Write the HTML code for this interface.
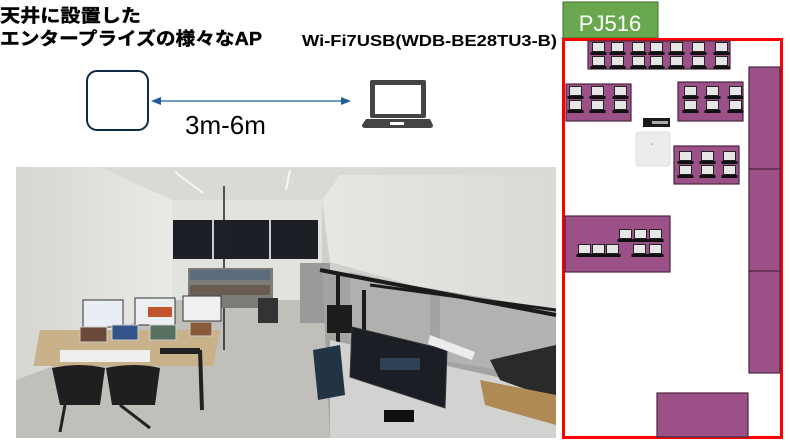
<!DOCTYPE html>
<html><head><meta charset="utf-8"><style>html,body{margin:0;padding:0;background:#fff;}svg{display:block}</style></head>
<body>
<svg width="790" height="444" viewBox="0 0 790 444" xmlns="http://www.w3.org/2000/svg">
<defs>
<g id="lp"><rect x="0.5" y="0.5" width="12" height="9" fill="#e6e6e6" stroke="#222" stroke-width="1"/><rect x="-1.5" y="10" width="16" height="3" fill="#111"/></g>
<linearGradient id="lw" x1="0" x2="1"><stop offset="0" stop-color="#d6d6d2"/><stop offset="1" stop-color="#e9e9e6"/></linearGradient>
<linearGradient id="rw" x1="0" x2="1"><stop offset="0" stop-color="#e6e6e3"/><stop offset="1" stop-color="#dadad6"/></linearGradient>
</defs>
<g font-family="Liberation Sans, Noto Sans CJK JP, sans-serif" font-weight="bold" fill="#000">
<text x="0" y="22" font-size="18" textLength="141" lengthAdjust="spacingAndGlyphs" stroke="#000" stroke-width="0.4">天井に設置した</text>
<text x="0" y="45" font-size="18" textLength="262" lengthAdjust="spacingAndGlyphs" stroke="#000" stroke-width="0.4">エンタープライズの様々なAP</text>
<text x="302" y="46" font-size="16" textLength="255" lengthAdjust="spacingAndGlyphs">Wi-Fi7USB(WDB-BE28TU3-B)</text>
</g>
<rect x="87" y="71" width="61" height="59" rx="10" fill="#fff" stroke="#0f2a47" stroke-width="2"/>
<line x1="158" y1="101" x2="344" y2="101" stroke="#1f5c99" stroke-width="1.3"/>
<polygon points="151,101 161,97 161,105" fill="#1f5c99"/>
<polygon points="351,101 341,97 341,105" fill="#1f5c99"/>
<text x="185" y="134" font-family="Liberation Sans, sans-serif" font-size="26" fill="#000">3m-6m</text>
<rect x="370" y="80" width="56" height="38" rx="2" fill="#444"/>
<rect x="375" y="85" width="46" height="29" fill="#fff"/>
<path d="M366 119 H430 L433 125 Q433 128 430 128 H365 Q362 128 362 125 Z" fill="#444"/>
<rect x="390" y="122" width="14" height="3" fill="#fff"/>

<g>
<rect x="16" y="167" width="540" height="271" fill="#cfcfcb"/>
<polygon points="16,167 556,167 556,175 340,175 322,200 172,200 100,167" fill="#d9d9d5"/>
<polygon points="16,167 100,167 172,200 172,300 70,360 16,380" fill="url(#lw)"/>
<rect x="172" y="200" width="150" height="100" fill="#e2e2de"/>
<polygon points="322,200 340,175 556,175 556,320 430,290 330,262" fill="url(#rw)"/>
<rect x="173" y="220" width="145" height="39" fill="#1c2026"/>
<line x1="213" y1="220" x2="213" y2="259" stroke="#ccc" stroke-width="2"/>
<line x1="270" y1="220" x2="270" y2="259" stroke="#ccc" stroke-width="2"/>
<polygon points="16,380 70,360 172,300 330,300 430,438 16,438" fill="#c0bfb9"/>
<line x1="175" y1="172" x2="203" y2="193" stroke="#f6f6f6" stroke-width="2"/>
<line x1="290" y1="170" x2="286" y2="190" stroke="#f6f6f6" stroke-width="2"/>
<line x1="224" y1="186" x2="224" y2="350" stroke="#222" stroke-width="1.5"/>
<rect x="188" y="268" width="85" height="40" fill="#7b7b78"/>
<rect x="190" y="270" width="80" height="10" fill="#5c6b7c"/>
<rect x="190" y="285" width="80" height="10" fill="#6a5b50"/>
<rect x="38" y="330" width="180" height="36" fill="#c9b28a" transform="skewX(-10) translate(60,0)"/>
<rect x="83" y="300" width="40" height="27" fill="#e8eef4" stroke="#333"/>
<rect x="135" y="298" width="40" height="27" fill="#eceff1" stroke="#333"/>
<rect x="183" y="296" width="38" height="25" fill="#f0f0f0" stroke="#333"/>
<rect x="148" y="307" width="24" height="10" fill="#c0542a"/>
<rect x="80" y="327" width="27" height="15" fill="#6b4a3a" stroke="#ccc"/>
<rect x="112" y="325" width="26" height="15" fill="#33558a" stroke="#ccc"/>
<rect x="150" y="325" width="26" height="15" fill="#57705f" stroke="#ccc"/>
<rect x="190" y="322" width="22" height="14" fill="#8a5b3a" stroke="#ccc"/>
<rect x="60" y="350" width="90" height="12" fill="#eeeeee"/>
<rect x="160" y="348" width="40" height="6" fill="#222"/>
<path d="M52 368 Q80 362 105 368 L100 405 L60 405 Z" fill="#1f1f1f"/>
<path d="M106 368 Q135 362 160 368 L155 405 L112 405 Z" fill="#1f1f1f"/>
<line x1="65" y1="405" x2="60" y2="432" stroke="#222" stroke-width="3"/>
<line x1="120" y1="405" x2="150" y2="428" stroke="#222" stroke-width="3"/>
<line x1="200" y1="350" x2="202" y2="410" stroke="#222" stroke-width="4"/>
<rect x="258" y="298" width="20" height="25" fill="#333"/>
<rect x="300" y="263" width="30" height="60" fill="#9a9a9a"/>
<polygon points="322,270 556,310 556,438 330,438" fill="#a3a3a1"/>
<polygon points="350,272 430,290 430,380 350,340" fill="#b0b0ae"/>
<polygon points="440,292 556,312 556,380 440,360" fill="#b2b2b0"/>
<line x1="320" y1="270" x2="556" y2="315" stroke="#1a1a1a" stroke-width="4"/>
<line x1="370" y1="285" x2="556" y2="310" stroke="#1a1a1a" stroke-width="3"/>
<rect x="336" y="272" width="4" height="166" fill="#1a1a1a"/>
<rect x="362" y="290" width="4" height="148" fill="#1a1a1a"/>
<polygon points="330,340 556,390 556,438 330,438" fill="#d2d2d0"/>
<rect x="327" y="305" width="25" height="28" fill="#1c1c1c"/>
<path d="M313 350 L340 345 L345 395 L318 400 Z" fill="#223344"/>
<polygon points="352,327 447,350 445,408 350,377" fill="#1b1e24" stroke="#333"/>
<rect x="380" y="358" width="40" height="12" fill="#3a5a7a" opacity="0.6"/>
<polygon points="430,335 475,352 472,360 428,344" fill="#ececec"/>
<polygon points="490,360 556,345 556,400 500,380" fill="#2a2a2a"/>
<polygon points="480,380 556,395 556,425 485,405" fill="#b08a55"/>
<rect x="384" y="410" width="30" height="12" fill="#111"/>
</g>

<rect x="563" y="2" width="95" height="36" fill="#6aa84f" stroke="#3d6b2c" stroke-width="1"/>
<text x="610" y="31" text-anchor="middle" font-family="Liberation Sans, sans-serif" font-size="22" fill="#fff">PJ516</text>
<rect x="563.5" y="39.5" width="218" height="398" fill="#fff" stroke="#ff0000" stroke-width="3"/>
<g fill="#9b5187" stroke="#4a2540" stroke-width="1.2">
<rect x="588" y="41" width="142" height="28"/>
<rect x="566" y="84" width="65" height="37"/>
<rect x="678" y="82" width="65" height="39"/>
<rect x="674" y="146" width="65" height="38"/>
<rect x="565" y="216" width="105" height="56"/>
<rect x="749" y="67" width="31" height="102"/>
<rect x="749" y="169" width="31" height="102"/>
<rect x="749" y="271" width="31" height="102"/>
<rect x="657" y="393" width="91" height="44"/>
</g>
<g>
<use href="#lp" x="592" y="42"/><use href="#lp" x="611" y="42"/><use href="#lp" x="632" y="42"/><use href="#lp" x="650" y="42"/><use href="#lp" x="670" y="42"/><use href="#lp" x="692" y="42"/><use href="#lp" x="715" y="42"/>
<use href="#lp" x="592" y="56"/><use href="#lp" x="611" y="56"/><use href="#lp" x="632" y="56"/><use href="#lp" x="650" y="56"/><use href="#lp" x="670" y="56"/><use href="#lp" x="692" y="56"/><use href="#lp" x="715" y="56"/>
<use href="#lp" x="569" y="86"/><use href="#lp" x="591" y="86"/><use href="#lp" x="614" y="86"/>
<use href="#lp" x="569" y="100"/><use href="#lp" x="591" y="100"/><use href="#lp" x="614" y="100"/>
<use href="#lp" x="684" y="86"/><use href="#lp" x="706" y="86"/><use href="#lp" x="729" y="86"/>
<use href="#lp" x="684" y="100"/><use href="#lp" x="706" y="100"/><use href="#lp" x="729" y="100"/>
<use href="#lp" x="679" y="151"/><use href="#lp" x="701" y="151"/><use href="#lp" x="723" y="151"/>
<use href="#lp" x="679" y="165"/><use href="#lp" x="701" y="165"/><use href="#lp" x="723" y="165"/>
<use href="#lp" x="619" y="229"/><use href="#lp" x="634" y="229"/><use href="#lp" x="649" y="229"/>
<use href="#lp" x="578" y="244"/><use href="#lp" x="592" y="244"/><use href="#lp" x="606" y="244"/><use href="#lp" x="633" y="244"/><use href="#lp" x="649" y="244"/>
</g>
<rect x="643" y="118" width="27" height="9" fill="#1a1a1a"/>
<rect x="652" y="121" width="16" height="3" fill="#aaa"/>
<rect x="636" y="132" width="34" height="34" rx="3" fill="#ececec" stroke="#dcdcdc"/>
<circle cx="652" cy="144" r="0.8" fill="#999"/>
</svg>
</body></html>
